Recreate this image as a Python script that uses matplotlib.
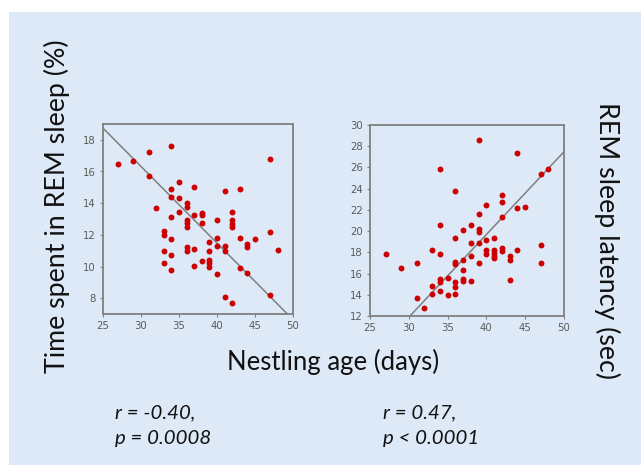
import numpy as np
import matplotlib.pyplot as plt
from matplotlib.patches import Rectangle

# Time in REM sleep (%) vs nestling age (days)
age_rem = [27, 29, 31, 31, 34, 32, 35, 34, 34, 35, 37, 36, 36, 35, 34, 37, 38, 38,
           36, 36, 36, 38, 33, 33, 34, 33, 34, 33, 34, 36, 36, 37, 37, 38, 39, 39,
           39, 39, 39, 40, 40, 40, 40, 41, 41, 41, 41, 42, 42, 42, 42, 42, 43, 43,
           43, 44, 44, 44, 45, 47, 47, 47, 48]
rem_pct = [16.46, 16.67, 17.22, 15.73, 17.6, 13.68, 15.33, 14.9, 14.36, 14.34, 15.0,
           13.98, 13.77, 13.43, 13.14, 13.26, 13.41, 13.26, 12.95, 12.74, 12.48, 12.74,
           12.27, 12.0, 11.73, 10.99, 10.74, 10.21, 9.75, 11.22, 11.01, 11.09, 10.04,
           10.32, 11.54, 10.99, 10.38, 10.21, 9.96, 12.95, 11.79, 11.31, 9.54, 14.76,
           11.31, 10.99, 8.06, 13.47, 12.95, 12.69, 12.48, 7.68, 14.88, 11.79, 9.89,
           11.43, 11.22, 9.58, 11.73, 16.78, 12.17, 8.17, 11.05]

# REM sleep latency (sec) vs nestling age (days)
age_lat = [27, 29, 31, 31, 32, 33, 33, 33, 34, 34, 34, 34, 34, 34, 35, 35, 36, 36,
           36, 36, 36, 36, 36, 37, 37, 37, 37, 37, 38, 38, 38, 38, 39, 39, 39, 39,
           39, 39, 40, 40, 40, 40, 41, 41, 41, 41, 41, 42, 42, 42, 42, 42, 43, 43,
           43, 44, 44, 44, 45, 47, 47, 47, 48]
latency = [17.89, 16.56, 16.97, 13.70, 12.79, 18.2, 14.83, 14.08, 25.81, 20.56, 17.89,
           15.53, 15.21, 14.33, 15.6, 14.02, 23.77, 19.36, 17.1, 16.88, 15.21, 14.74,
           14.08, 20.09, 17.26, 16.38, 15.53, 15.31, 20.62, 18.89, 17.67, 15.27, 28.58,
           21.57, 20.18, 19.87, 18.89, 17.04, 22.45, 19.14, 18.26, 17.82, 19.39, 18.26,
           17.95, 17.67, 17.42, 23.39, 22.76, 21.35, 18.45, 18.14, 17.67, 17.32, 15.43,
           27.39, 22.2, 18.23, 22.29, 25.37, 18.67, 17.04, 25.84]

# fitted lines (slope, intercept)
fit_rem = (-0.484, 30.84)
fit_lat = (0.78, -11.52)

panel = '#dde9f7'
dot = '#cc0000'

fig = plt.figure(figsize=(6.41, 4.65), dpi=100)
fig.patch.set_facecolor('white')
fig.patches.append(Rectangle((9 / 641, 0), 1, 1 - 12 / 465, transform=fig.transFigure,
                             facecolor=panel, edgecolor='none', zorder=-5))

W, H = 641, 465
ax1 = fig.add_axes([103 / W, 1 - 314 / H, 190 / W, 190 / H])
ax2 = fig.add_axes([370 / W, 1 - 316 / H, 194 / W, 191 / H])

def style(ax, ylim, yticks):
    ax.set_facecolor(panel)
    ax.set_xlim(25, 50)
    ax.set_ylim(*ylim)
    ax.set_xticks([25, 30, 35, 40, 45, 50])
    ax.set_yticks(yticks)
    for s in ax.spines.values():
        s.set_color('#7f7f7f')
        s.set_linewidth(1.3)
    ax.tick_params(colors='#7f7f7f', labelcolor='#5a5a5a', labelsize=7.3,
                   length=2, width=0.8, pad=3)

style(ax1, (7, 19), [8, 10, 12, 14, 16, 18])
style(ax2, (12, 30), [12, 14, 16, 18, 20, 22, 24, 26, 28, 30])

ax1.scatter(age_rem, rem_pct, s=18, color=dot, zorder=3, linewidths=0)
ax2.scatter(age_lat, latency, s=18, color=dot, zorder=3, linewidths=0)

xs = np.linspace(25, 50, 200)
ax1.plot(xs, fit_rem[0] * xs + fit_rem[1], color='#7f7f7f', linewidth=1.1, zorder=2)
ax2.plot(xs, fit_lat[0] * xs + fit_lat[1], color='#7f7f7f', linewidth=1.1, zorder=2)

font = 'Lato'
fig.text(57 / W, 1 - 206 / H, 'Time spent in REM sleep (%)', rotation=90,
         ha='center', va='center', fontsize=19.3, family=font, color='#111111')
fig.text(607 / W, 1 - 240 / H, 'REM sleep latency (sec)', rotation=270,
         ha='center', va='center', fontsize=19.3, family=font, color='#111111')
fig.text(333 / W, 1 - 362 / H, 'Nestling age (days)', ha='center', va='center',
         fontsize=18.5, family=font, color='#111111')

for x0, lines in [(115, ['r = -0.40,', 'p = 0.0008']), (383, ['r = 0.47,', 'p < 0.0001'])]:
    fig.text(x0 / W, 1 - 413 / H, lines[0], ha='left', va='center', fontsize=14.7,
             family=font, style='italic', color='#111111')
    fig.text(x0 / W, 1 - 438 / H, lines[1], ha='left', va='center', fontsize=14.7,
             family=font, style='italic', color='#111111')

fig.savefig('out.png', dpi=100)
